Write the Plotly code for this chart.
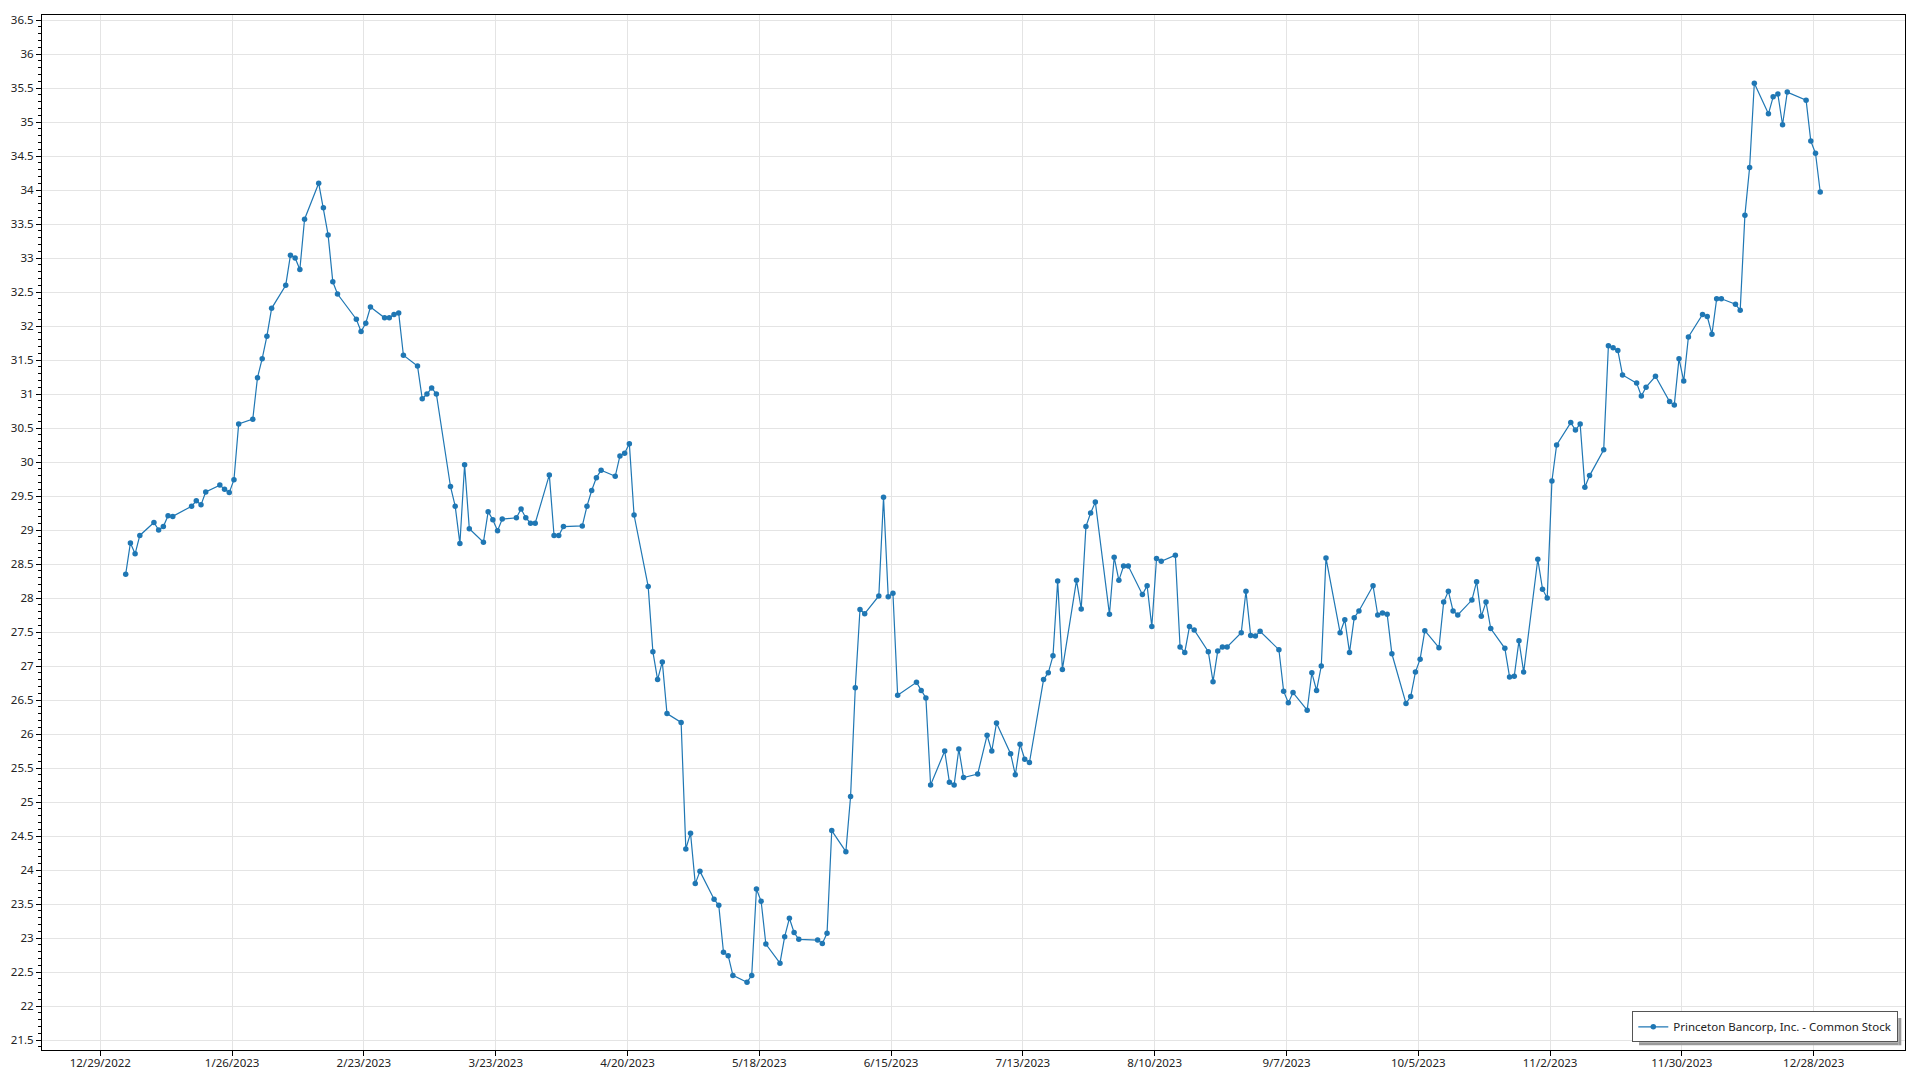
import pandas as pd
import plotly.graph_objects as go

# ---------------- data ----------------
SERIES_NAME = "Princeton Bancorp, Inc. - Common Stock"
HOLIDAYS_2023 = ["2023-01-02", "2023-01-16", "2023-02-20", "2023-04-07", "2023-05-29",
                 "2023-06-19", "2023-07-04", "2023-09-04", "2023-11-23", "2023-12-25"]

jan = [28.35, 28.81, 28.65, 28.92, 29.11, 29.00, 29.05, 29.21, 29.20, 29.35,
       29.43, 29.37, 29.56, 29.66, 29.60, 29.55, 29.74, 30.56, 30.63, 31.24]
feb = [31.52, 31.85, 32.26, 32.60, 33.04, 33.00, 32.83, 33.57, 34.10, 33.74,
       33.34, 32.65, 32.47, 32.10, 31.92, 32.04, 32.28, 32.12, 32.12]
mar = [32.17, 32.19, 31.57, 31.41, 30.93, 31.00, 31.09, 31.00, 29.64, 29.35,
       28.80, 29.96, 29.02, 28.82, 29.27, 29.15, 28.99, 29.16, 29.18, 29.31,
       29.18, 29.10, 29.10]
apr = [29.81, 28.92, 28.92, 29.05, 29.06, 29.35, 29.58, 29.77, 29.88, 29.79,
       30.09, 30.13, 30.27, 29.22, 28.17, 27.21, 26.80, 27.06, 26.30]
may = [26.17, 24.31, 24.54, 23.80, 23.98, 23.57, 23.48, 22.79, 22.74, 22.45,
       22.35, 22.45, 23.72, 23.54, 22.91, 22.63, 23.02, 23.29, 23.08, 22.98,
       22.97, 22.92]
jun = [23.07, 24.58, 24.27, 25.08, 26.68, 27.83, 27.77, 28.03, 29.48, 28.02,
       28.07, 26.57, 26.76, 26.64, 26.53, 25.25, 25.75, 25.29, 25.25, 25.78, 25.36]
jul = [25.41, 25.98, 25.75, 26.16, 25.71, 25.40, 25.85, 25.63, 25.58, 26.80,
       26.90, 27.15, 28.25, 26.95, 28.26, 27.84, 29.05, 29.25, 29.41, 27.76]
aug = [28.60, 28.26, 28.47, 28.47, 28.05, 28.18, 27.58, 28.58, 28.54, 28.63,
       27.28, 27.20, 27.58, 27.53, 27.21, 26.77, 27.22, 27.28, 27.28, 27.49,
       28.10, 27.45, 27.44]
sep = [27.51, 27.24, 26.63, 26.46, 26.61, 26.35, 26.90, 26.64, 27.00, 28.59,
       27.49, 27.68, 27.20, 27.71, 27.81, 28.18, 27.75, 27.78, 27.76, 27.18]
oct_ = [26.45, 26.55, 26.91, 27.10, 27.52, 27.27, 27.94, 28.10, 27.81, 27.75,
        27.97, 28.24, 27.73, 27.94, 27.55, 27.26, 26.84, 26.85, 27.37, 26.91,
        28.57, 28.13]
nov = [28.00, 29.72, 30.25, 30.58, 30.47, 30.56, 29.63, 29.80, 30.18, 31.71,
       31.68, 31.64, 31.28, 31.16, 30.97, 31.10, 31.26, 30.89, 30.84, 31.52, 31.19]
dec = [31.84, 32.17, 32.14, 31.88, 32.40, 32.40, 32.32, 32.23, 33.63, 34.33,
       35.57, 35.12, 35.37, 35.41, 34.96, 35.44, 35.32, 34.72, 34.54, 33.97]

close = jan + feb + mar + apr + may + jun + jul + aug + sep + oct_ + nov + dec

# trading days of 2023 (quotes stamped at the 9:30 open)
dates = pd.bdate_range("2023-01-03", "2023-12-29", freq="C", holidays=HOLIDAYS_2023) \
    + pd.Timedelta(hours=9, minutes=30)
assert len(dates) == len(close)

# ---------------- layout geometry ----------------
W, H = 1920, 1080
PL, PR, PT, PB = 42, 1905, 15, 1050          # plot area edges in pixels
PW, PH = PR - PL, PB - PT
ref = pd.Timestamp("2022-12-29")
ref_px, px_per_day = 100.3, 4.707
x0 = ref + pd.Timedelta(days=(PL - ref_px) / px_per_day)
x1 = ref + pd.Timedelta(days=(PR - ref_px) / px_per_day)
y_ref, y_ref_px, px_per_unit = 21.5, 1040, 68.0
y0 = y_ref - (PB - y_ref_px) / px_per_unit
y1 = y_ref + (y_ref_px - PT) / px_per_unit


def px_x(px):
    return (px - PL) / PW


def px_y(py):
    return (PB - py) / PH


FONT = "Segoe UI, Noto Sans, Open Sans, sans-serif"
BLUE = "#1f77b4"

# legend box (pixels) and its drop shadow
LEG_R, LEG_B, LEG_L, LEG_T = 1898.3, 1042.3, 1636, 1015
SH = 3

fig = go.Figure()
fig.add_trace(go.Scatter(
    x=dates, y=close, mode="lines+markers", name=SERIES_NAME,
    line=dict(color=BLUE, width=1.2),
    marker=dict(color=BLUE, size=5.5, line=dict(width=0)),
    showlegend=True,
))

shadow = [
    dict(type="rect", xref="paper", yref="paper", layer="above",
         x0=px_x(LEG_R), x1=px_x(LEG_R + SH), y0=px_y(LEG_B + SH), y1=px_y(LEG_T + SH),
         fillcolor="#9a9a9a", line=dict(width=0)),
    dict(type="rect", xref="paper", yref="paper", layer="above",
         x0=px_x(LEG_L + SH), x1=px_x(LEG_R), y0=px_y(LEG_B + SH), y1=px_y(LEG_B),
         fillcolor="#9a9a9a", line=dict(width=0)),
]

fig.update_layout(
    width=W, height=H,
    margin=dict(l=PL, r=W - PR, t=PT, b=H - PB, pad=0, autoexpand=False),
    paper_bgcolor="white", plot_bgcolor="white",
    font=dict(family=FONT, size=11.5, color="#222"),
    showlegend=True,
    legend=dict(
        x=px_x(LEG_R), y=px_y(LEG_B), xanchor="right", yanchor="bottom",
        bgcolor="white", bordercolor="#555", borderwidth=1,
        font=dict(family=FONT, size=11.5, color="#222"),
        itemwidth=30,
    ),
    shapes=shadow,
    xaxis=dict(
        type="date", range=[x0, x1], automargin=False,
        tick0="2022-12-29", dtick=28 * 86400000, tickformat="%-m/%-d/%Y",
        showgrid=True, gridcolor="#e4e4e4", gridwidth=1,
        showline=True, linecolor="#000", linewidth=1, mirror=True,
        ticks="outside", ticklen=5, tickcolor="#000",
        ticklabelstandoff=-3,
        zeroline=False,
    ),
    yaxis=dict(
        range=[y0, y1], tick0=21.5, dtick=0.5, automargin=False,
        showgrid=True, gridcolor="#e4e4e4", gridwidth=1,
        showline=True, linecolor="#000", linewidth=1, mirror=True,
        ticks="outside", ticklen=5, tickcolor="#000",
        minor=dict(dtick=0.1, ticks="outside", ticklen=3, tickcolor="#000", showgrid=False),
        zeroline=False,
    ),
)

fig.write_html("out.html", config={"displayModeBar": False},
               post_script="document.body.style.margin='0';")
